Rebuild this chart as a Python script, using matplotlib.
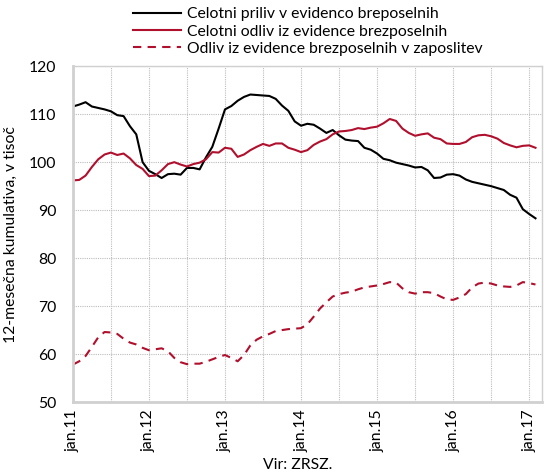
import matplotlib
matplotlib.use("Agg")
import matplotlib.pyplot as plt
import numpy as np

# Monthly data jan.11 .. feb.17 (thousands, 12-month cumulative)
priliv = [111.6, 112.0, 112.5, 111.6, 111.3, 111.0, 110.6, 109.8, 109.6, 107.5, 105.8, 100.0,
          98.2, 97.5, 96.7, 97.5, 97.6, 97.4, 98.8, 98.8, 98.5, 101.0, 103.2, 107.0,
          111.0, 111.7, 112.8, 113.6, 114.1, 114.0, 113.9, 113.8, 113.2, 111.8, 110.7, 108.5,
          107.6, 108.0, 107.8, 107.0, 106.1, 106.7, 105.6, 104.7, 104.5, 104.4, 103.0, 102.6,
          101.8, 100.7, 100.4, 99.9, 99.6, 99.3, 98.9, 99.0, 98.3, 96.7, 96.8, 97.4,
          97.5, 97.2, 96.4, 95.9, 95.6, 95.3, 95.0, 94.6, 94.2, 93.2, 92.6, 90.2,
          89.2, 88.3]
odliv = [96.2, 96.3, 97.2, 99.0, 100.6, 101.6, 102.0, 101.5, 101.8, 100.8, 99.4, 98.6,
         97.1, 97.2, 98.3, 99.6, 100.0, 99.5, 99.1, 99.6, 99.9, 100.6, 102.1, 102.0,
         103.0, 102.8, 101.1, 101.6, 102.5, 103.2, 103.8, 103.4, 103.9, 103.9, 103.0, 102.6,
         102.1, 102.5, 103.6, 104.3, 104.8, 105.8, 106.4, 106.5, 106.7, 107.1, 106.9, 107.2,
         107.4, 108.1, 109.0, 108.6, 107.0, 106.1, 105.5, 105.8, 106.0, 105.1, 104.8, 103.9,
         103.8, 103.8, 104.2, 105.2, 105.6, 105.7, 105.4, 104.9, 104.0, 103.5, 103.1, 103.4,
         103.5, 103.0]
zaposlitev = [57.8, 58.5, 59.6, 61.5, 63.5, 64.6, 64.5, 64.2, 63.2, 62.4, 62.0, 61.3,
              60.8, 61.0, 61.2, 60.6, 59.2, 58.3, 57.9, 58.0, 58.0, 58.4, 58.9, 59.4,
              59.8, 59.2, 58.5, 59.8, 61.8, 63.0, 63.7, 64.2, 64.8, 65.0, 65.2, 65.3,
              65.4, 66.2, 67.8, 69.5, 70.8, 72.0, 72.5, 72.8, 73.0, 73.5, 73.9, 74.1,
              74.3, 74.6, 75.0, 74.9, 73.7, 72.9, 72.6, 72.9, 72.9, 72.7, 72.0, 71.4,
              71.3, 71.8, 72.5, 73.9, 74.7, 74.9, 74.7, 74.3, 74.1, 74.0, 74.3, 75.0,
              74.8, 74.5]
tick_labels = ["jan.11", "jan.12", "jan.13", "jan.14", "jan.15", "jan.16", "jan.17"]
series_names = ["Celotni priliv v evidenco breposelnih",
                "Celotni odliv iz evidence brezposelnih",
                "Odliv iz evidence brezposelnih v zaposlitev"]

plt.rcParams['font.family'] = ['Lato', 'DejaVu Sans']
fs = 11.3

fig = plt.figure(figsize=(5.44, 4.73), dpi=100)
ax = fig.add_axes([0.134, 0.150, 0.862, 0.710])

x = np.arange(len(priliv))
red = '#B0102E'
ax.plot(x, priliv, color='black', lw=1.5, label=series_names[0])
ax.plot(x, odliv, color=red, lw=1.5, label=series_names[1])
ax.plot(x, zaposlitev, color=red, lw=1.5, ls=(0, (4, 3)), label=series_names[2])

ax.set_xlim(0, 74)
ax.set_ylim(50, 120)
ax.set_yticks(np.arange(50, 121, 10))
ax.set_xticks(np.arange(0, 73, 12))
ax.set_xticklabels(tick_labels, rotation=90)
ax.set_xticks(np.arange(6, 73, 12), minor=True)
ax.tick_params(axis='both', which='both', length=0, labelsize=fs)
ax.tick_params(axis='y', pad=12)
ax.tick_params(axis='x', pad=5)
ax.grid(True, which='both', color='#BDBDBD', ls=(0, (1, 1)), lw=0.8)
ax.set_axisbelow(True)
for s in ax.spines.values():
    s.set_color('#D0D0D0')
    s.set_linewidth(1.0)
ax.spines['left'].set_linewidth(2.0)
ax.spines['bottom'].set_linewidth(2.0)

ax.set_ylabel("12-mesečna kumulativa, v tisoč", fontsize=fs, labelpad=8)

leg = fig.legend(loc='upper left', bbox_to_anchor=(0.228, 1.005), frameon=False,
                 fontsize=fs, handlelength=3.0, handletextpad=0.4, labelspacing=0.22,
                 borderaxespad=0.2)

fig.text(0.547, 0.003, "Vir: ZRSZ.", ha='center', va='bottom', fontsize=fs)

fig.savefig("out.png", dpi=100)
